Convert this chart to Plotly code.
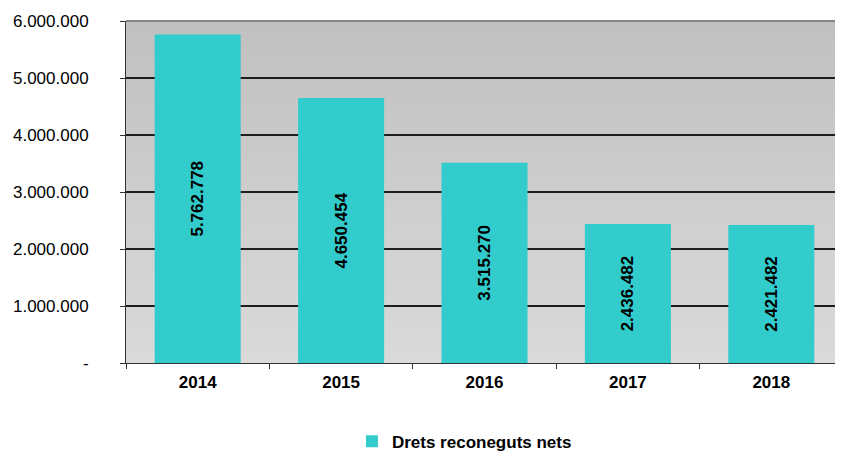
import plotly.graph_objects as go

# ── Data ──
years = ['2014', '2015', '2016', '2017', '2018']
drets = [5762778, 4650454, 3515270, 2436482, 2421482]

y_ticks = [0, 1000000, 2000000, 3000000, 4000000, 5000000, 6000000]
y_tick_labels = ['-', '1.000.000', '2.000.000', '3.000.000',
                 '4.000.000', '5.000.000', '6.000.000']

FONT = 'Liberation Sans, Arial, sans-serif'

fig = go.Figure()
fig.add_trace(go.Bar(
    x=years, y=drets, name='Drets reconeguts nets',
    marker=dict(color='#33CCCC', line=dict(width=0)),
    texttemplate='%{y:,.0f}', textposition='inside',
    insidetextanchor='middle', textangle=-90,
    textfont=dict(family=FONT, size=17, color='black', weight='bold'),
))

# ── gray gradient behind the plot (dark at top, light at bottom) ──
# strips overlap (each runs to the top) so no seams show between them
n_strips = 40
top_c, bot_c = 192, 218
shapes = []
for i in range(n_strips):
    v = round(bot_c + (top_c - bot_c) * (i + 0.5) / n_strips)
    shapes.append(dict(
        type='rect', xref='x domain', yref='y domain',
        x0=0, x1=1, y0=i / n_strips, y1=1,
        fillcolor=f'rgb({v},{v},{v})', line=dict(width=0), layer='below'))
shapes.append(dict(type='line', xref='x domain', yref='y domain',
                   x0=0, x1=1, y0=1, y1=1,
                   line=dict(color='#858585', width=2)))

# page body keeps an 8px margin, so the figure is 8px smaller each way
fig.update_layout(
    width=835, height=444,
    margin=dict(l=118, r=0, t=13, b=89),
    paper_bgcolor='white', plot_bgcolor='rgba(0,0,0,0)',
    separators=',.', bargap=0.4, shapes=shapes,
    font=dict(family=FONT, size=17, color='black'),
    showlegend=True,
    legend=dict(orientation='h', x=0.472, xanchor='center',
                yref='container', y=0.023, yanchor='middle',
                font=dict(family=FONT, size=17, color='black', weight='bold')),
)
fig.update_xaxes(
    type='category', tickson='boundaries', ticks='outside', ticklen=5,
    tickcolor='#333', showline=True, linecolor='#333', linewidth=1,
    showgrid=False, ticklabelstandoff=4, automargin=False,
    tickfont=dict(family=FONT, size=17, color='black', weight='bold'),
)
fig.update_yaxes(
    range=[0, 6000000], tickvals=y_ticks, ticktext=y_tick_labels,
    ticks='outside', ticklen=5, tickcolor='#333',
    showline=True, linecolor='#333', linewidth=1,
    showgrid=True, gridcolor='#1e1e1e', gridwidth=1.5, zeroline=False,
    ticklabelstandoff=28, automargin=False,
    tickfont=dict(family=FONT, size=17, color='black'),
)

fig.write_html('out.html')
